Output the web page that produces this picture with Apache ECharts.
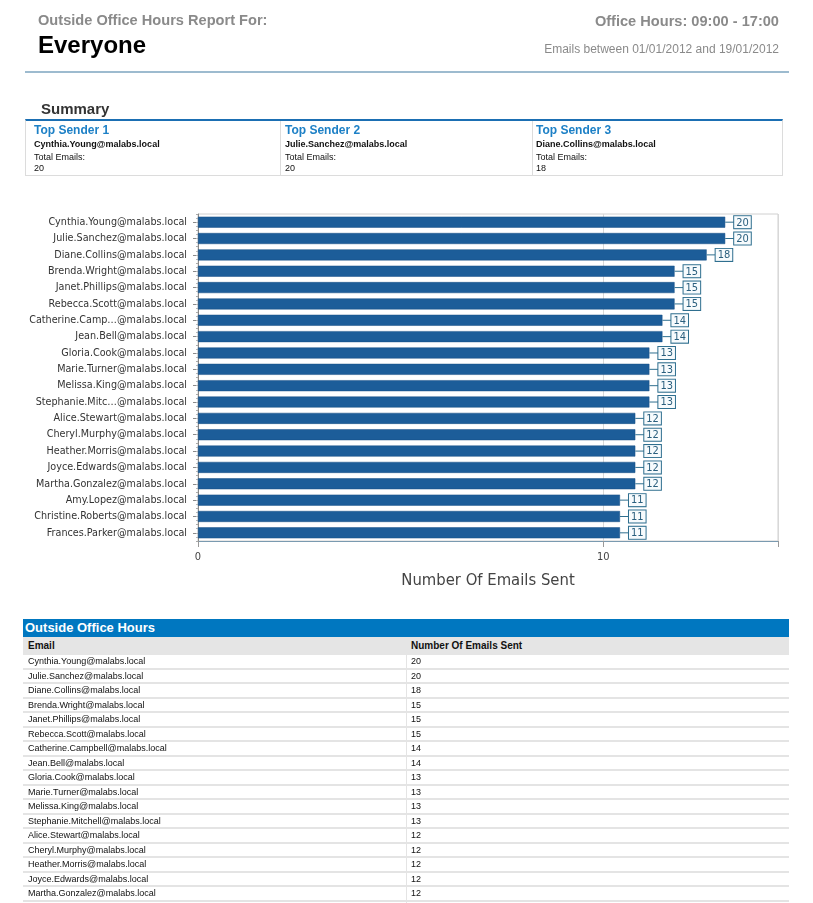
<!DOCTYPE html>
<html>
<head>
<meta charset="utf-8">
<script src="https://cdn.jsdelivr.net/npm/echarts@6/dist/echarts.min.js"></script>
<style>
  html, body { margin: 0; padding: 0; width: 813px; height: 903px; overflow: hidden; background: #fff; font-family: "Liberation Sans", Arial, sans-serif; }
  #chart { position: absolute; left: 0; top: 0; width: 813px; height: 903px; }
  .abs { position: absolute; white-space: nowrap; }
  #hdr1 { left: 38px; top: 12px; font-size: 14.6px; font-weight: bold; color: #8a8a8a; }
  #hdr2 { left: 38px; top: 31px; font-size: 24px; font-weight: bold; color: #000; }
  #hdr3 { right: 34px; top: 13px; font-size: 14.6px; font-weight: bold; color: #8a8a8a; }
  #hdr4 { right: 34px; top: 42px; font-size: 12px; color: #8a8a8a; }
  #rule { left: 25px; top: 71px; width: 764px; height: 2px; background: #9dbbcf; }
  #sumTitle { left: 41px; top: 100px; font-size: 15px; font-weight: bold; color: #333; }
  #sumBox { left: 25px; top: 119px; width: 756px; height: 54px; border: 1px solid #dcdcdc; border-top: 2px solid #1b6fb3; }
  .sumCol { position: absolute; top: 0; height: 54px; }
  .sumCol .t { position: absolute; top: 2px; font-size: 12px; font-weight: bold; color: #1d80c6; }
  .sumCol .e { position: absolute; top: 18px; font-size: 9px; font-weight: bold; color: #111; }
  .sumCol .l { position: absolute; top: 31px; font-size: 9px; color: #111; }
  .sumCol .v { position: absolute; top: 42px; font-size: 9px; color: #111; }
  #tbl { left: 23px; top: 619px; width: 766px; }
  #tblHead { height: 18px; background: #0077c0; color: #fff; font-size: 13px; font-weight: bold; line-height: 18px; padding-left: 2px; }
  .row { position: relative; height: 12.5px; border-bottom: 2px solid #e4e4e4; font-size: 9px; color: #111; line-height: 12.5px; }
  .row .c1 { position: absolute; left: 5px; top: 0; }
  .row .c2 { position: absolute; left: 388px; top: 0; }
  .row .div { position: absolute; left: 383px; top: 0; width: 1px; height: 12.5px; background: #e4e4e4; }
  .colHead { background: #e5e5e5; font-weight: bold; font-size: 10px; height: 17px; line-height: 18px; border-bottom: 1px solid #e5e5e5; }
  .colHead .div { display: none; }
</style>
</head>
<body>
<div id="chart"></div>
<div class="abs" id="hdr1">Outside Office Hours Report For:</div>
<div class="abs" id="hdr2">Everyone</div>
<div class="abs" id="hdr3">Office Hours: 09:00 - 17:00</div>
<div class="abs" id="hdr4">Emails between 01/01/2012 and 19/01/2012</div>
<div class="abs" id="rule"></div>
<div class="abs" id="sumTitle">Summary</div>
<div class="abs" id="sumBox"></div>
<div class="abs" id="tbl"><div id="tblHead">Outside Office Hours</div></div>
<script>
// ---- data ----
var emails = [
  "Cynthia.Young@malabs.local", "Julie.Sanchez@malabs.local", "Diane.Collins@malabs.local",
  "Brenda.Wright@malabs.local", "Janet.Phillips@malabs.local", "Rebecca.Scott@malabs.local",
  "Catherine.Campbell@malabs.local", "Jean.Bell@malabs.local", "Gloria.Cook@malabs.local",
  "Marie.Turner@malabs.local", "Melissa.King@malabs.local", "Stephanie.Mitchell@malabs.local",
  "Alice.Stewart@malabs.local", "Cheryl.Murphy@malabs.local", "Heather.Morris@malabs.local",
  "Joyce.Edwards@malabs.local", "Martha.Gonzalez@malabs.local", "Amy.Lopez@malabs.local",
  "Christine.Roberts@malabs.local", "Frances.Parker@malabs.local"
];
var emailCounts = [20, 20, 18, 15, 15, 15, 14, 14, 13, 13, 13, 13, 12, 12, 12, 12, 12, 11, 11, 11];
var xTickLabels = ["0", "10"];
var topSenderTitles = ["Top Sender 1", "Top Sender 2", "Top Sender 3"];
var tableColumns = ["Email", "Number Of Emails Sent"];
var xAxisName = "Number Of Emails Sent";

// ---- summary ----
var sumBox = document.getElementById('sumBox');
var colLefts = [0, 254, 506], colWidths = [254, 252, 250], colPads = [8, 4, 3];
for (var i = 0; i < 3; i++) {
  var c = document.createElement('div');
  c.className = 'sumCol';
  c.style.left = colLefts[i] + 'px';
  c.style.width = colWidths[i] + 'px';
  if (i > 0) c.style.borderLeft = '1px solid #dcdcdc';
  var p = 'style="left:' + colPads[i] + 'px"';
  c.innerHTML = '<div class="t" ' + p + '>' + topSenderTitles[i] + '</div><div class="e" ' + p + '>' + emails[i] +
    '</div><div class="l" ' + p + '>Total Emails:</div><div class="v" ' + p + '>' + emailCounts[i] + '</div>';
  sumBox.appendChild(c);
}

// ---- table ----
var tbl = document.getElementById('tbl');
function addRow(a, b, cls) {
  var r = document.createElement('div');
  r.className = 'row' + (cls ? ' ' + cls : '');
  r.innerHTML = '<div class="c1">' + a + '</div><div class="div"></div><div class="c2">' + b + '</div>';
  tbl.appendChild(r);
}
addRow(tableColumns[0], tableColumns[1], 'colHead');
for (var k = 0; k < emails.length; k++) addRow(emails[k], emailCounts[k]);

// ---- chart ----
function shortLabel(s) {
  var parts = s.split('@');
  if (parts[0].length > 17) return parts[0].slice(0, 14) + '\u2026@' + parts[1];
  return s;
}
var boxColor = '#2f6f8f';
var chart = echarts.init(document.getElementById('chart'), null, { renderer: 'canvas' });
chart.setOption({
  animation: false,
  grid: { left: 198, top: 214, width: 580, height: 327, show: true, borderColor: '#d0d0d0', borderWidth: 1, containLabel: false },
  xAxis: {
    type: 'log', logBase: 10, min: 1, max: 27,
    name: xAxisName, nameLocation: 'middle', nameGap: 31,
    nameTextStyle: { fontFamily: 'DejaVu Sans Condensed', fontSize: 16.5, color: '#444' },
    axisLine: { show: true, lineStyle: { color: '#7a9ab0', width: 1 } },
    axisTick: { show: true, length: 6, lineStyle: { color: '#999' } },
    axisLabel: { margin: 11, fontFamily: 'DejaVu Sans Condensed', fontSize: 11, color: '#444',
      formatter: function (v, i) { return xTickLabels[i] != null ? xTickLabels[i] : ''; } },
    splitLine: { show: true, lineStyle: { color: '#d8d8d8', width: 1 } },
    minorTick: { show: false }
  },
  yAxis: [{
    type: 'category', inverse: true, data: emails,
    axisLine: { show: true, lineStyle: { color: '#8a8a8a' } },
    axisTick: { show: true, alignWithLabel: true, length: 5, lineStyle: { color: '#8a8a8a' } },
    axisLabel: { margin: 11, fontFamily: 'DejaVu Sans Condensed', fontSize: 10.7, color: '#333', formatter: shortLabel },
    splitLine: { show: false }
  }, {
    type: 'value', position: 'left', min: 0, max: 20, interval: 1,
    axisLine: { show: false },
    axisTick: { show: true, inside: false, length: 2, lineStyle: { color: '#aaa' } },
    minorTick: { show: true, splitNumber: 4, length: 2, lineStyle: { color: '#bbb' } },
    axisLabel: { show: false }, splitLine: { show: false }
  }],
  series: [{
    type: 'bar', yAxisIndex: 0, data: emailCounts, barWidth: 11,
    itemStyle: { color: '#1c5d99', borderColor: '#174f84', borderWidth: 0.5 },
    label: {
      show: true, position: 'right', distance: 0,
      formatter: function (p) { return '{l|}{b|' + p.value + '}'; },
      rich: {
        l: { width: 9, height: 1, backgroundColor: boxColor },
        b: {
          fontFamily: 'DejaVu Sans Condensed', fontSize: 11, color: '#2a5f7e',
          backgroundColor: '#f7fbfd', borderColor: boxColor, borderWidth: 1,
          padding: [1, 2, 0, 2], lineHeight: 13
        }
      }
    }
  }]
});
</script>
</body>
</html>
